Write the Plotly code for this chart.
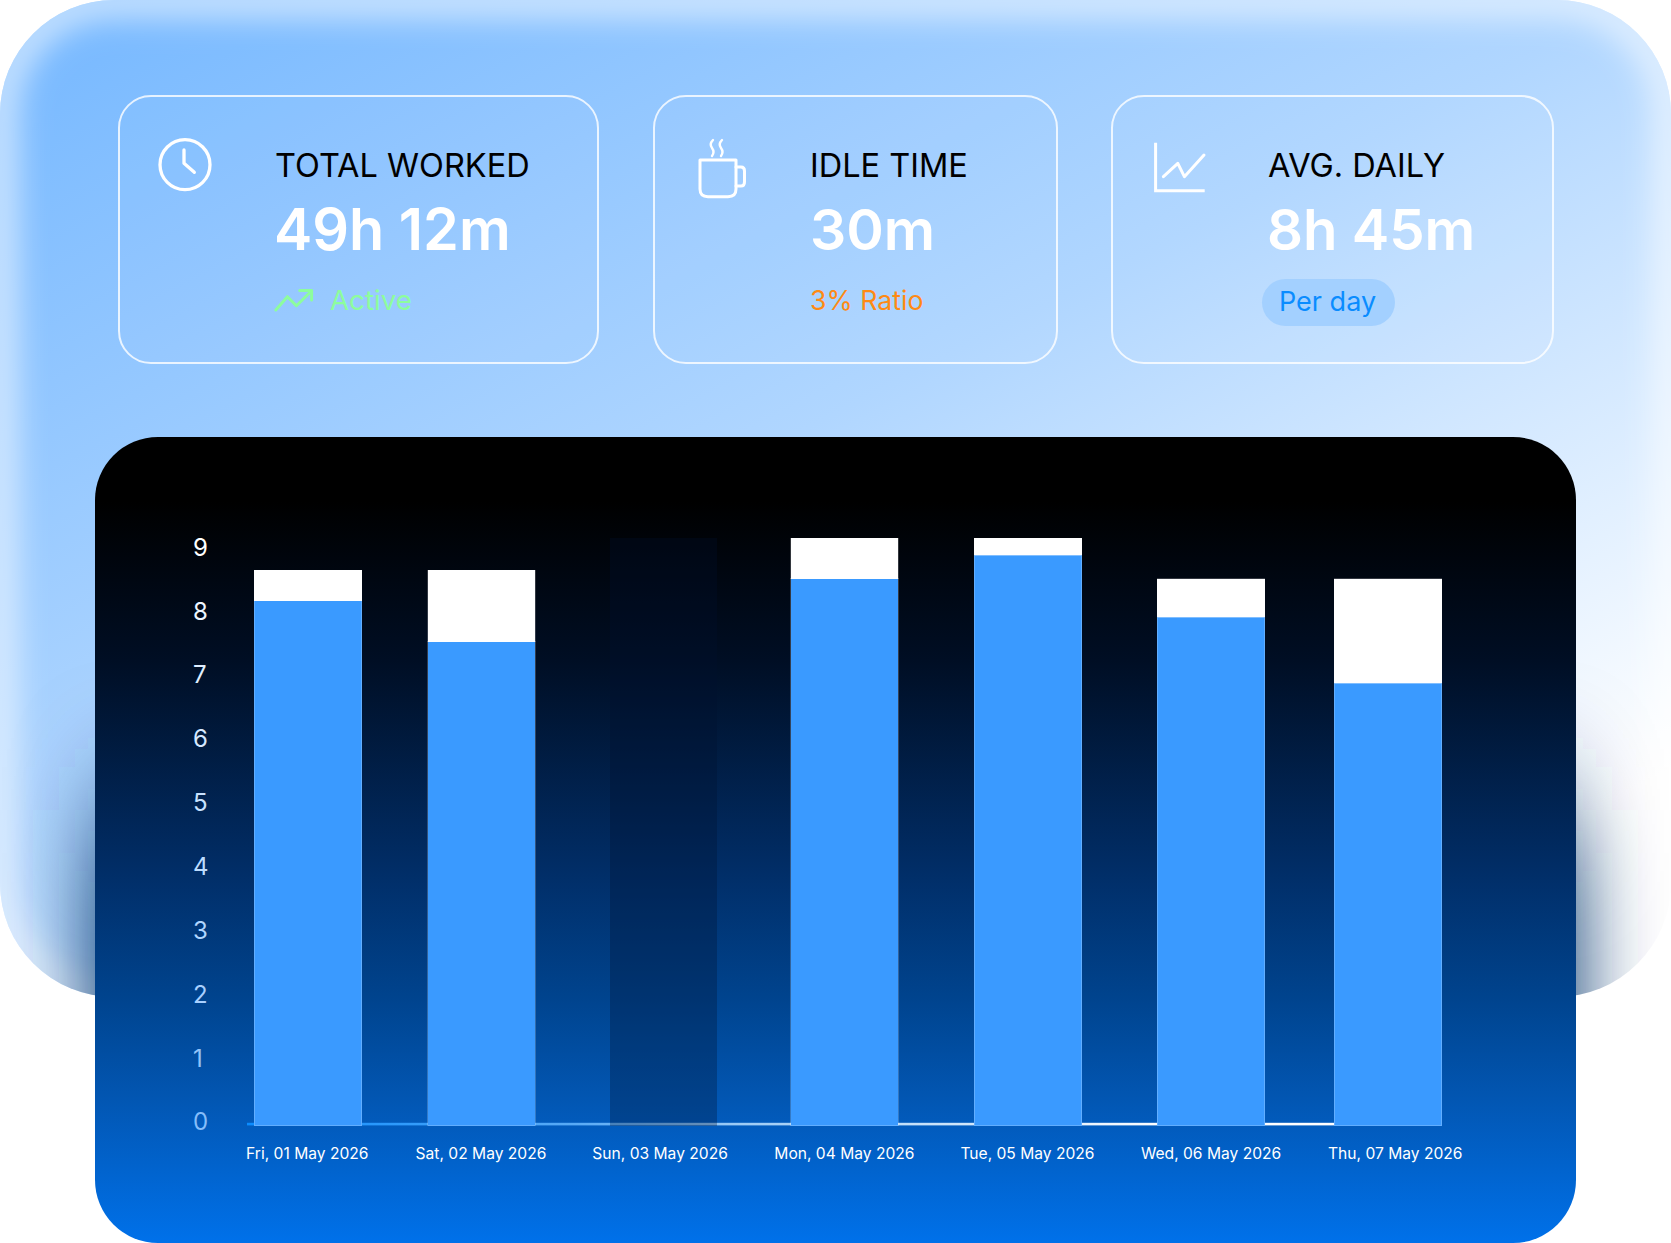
import base64
import plotly.graph_objects as go

# ---- data (hours) ----
days = ["Fri, 01 May 2026", "Sat, 02 May 2026", "Sun, 03 May 2026", "Mon, 04 May 2026",
        "Tue, 05 May 2026", "Wed, 06 May 2026", "Thu, 07 May 2026"]
worked = [8.22, 7.58, None, 8.56, 8.93, 7.96, 6.93]
idle = [0.48, 1.12, None, 0.64, 0.27, 0.60, 1.63]
day_off = [None, None, 9.2, None, None, None, None]
y_ticks = [0, 1, 2, 3, 4, 5, 6, 7, 8, 9]

# hand-placed columns in the source: slightly uneven spacing, in day units
bar_pos = [0.0, 0.963, 1.975, 2.981, 4.0, 5.018, 6.0]
label_pos = [-0.004, 0.961, 1.956, 2.98, 3.997, 5.017, 6.04]
y_colors = ["#85bdfa", "#92c3f8", "#a8d0ff", "#b0d6ff", "#bcdcff",
            "#c8e2ff", "#d5e8ff", "#dfeeff", "#eef6ff", "#ffffff"]

W, H = 1671, 1243
PX_PER_DAY = 180.0
X0_PX = 308.0
Y0_PX = 1125.5
PX_PER_HOUR = 63.85
PLOT_L, PLOT_R, PLOT_T = 190.0, 1500.0, 487.0
PLOT_B = 1157.5
FONT = "Inter, 'Noto Sans', sans-serif"

BG_SVG = f"""<svg xmlns="http://www.w3.org/2000/svg" width="{W}" height="{H}" viewBox="0 0 {W} {H}">
<defs>
<linearGradient id="bg" gradientUnits="userSpaceOnUse" x1="0" y1="58" x2="640" y2="1300">
<stop offset="0" stop-color="#78b9ff"/><stop offset="0.5" stop-color="#b0d6ff"/><stop offset="1" stop-color="#ffffff"/></linearGradient>
<linearGradient id="dark" gradientUnits="userSpaceOnUse" x1="0" y1="437" x2="0" y2="1243">
<stop offset="0.08" stop-color="#000000"/><stop offset="0.277" stop-color="#000e24"/>
<stop offset="0.534" stop-color="#012d66"/><stop offset="0.70" stop-color="#00448f"/>
<stop offset="0.82" stop-color="#0256b2"/><stop offset="1" stop-color="#0071ea"/></linearGradient>
<linearGradient id="base" gradientUnits="userSpaceOnUse" x1="247" y1="0" x2="1335" y2="0">
<stop offset="0" stop-color="#0a8cff"/><stop offset="0.3" stop-color="#58aaf5"/>
<stop offset="0.45" stop-color="#9ccbf5"/><stop offset="0.85" stop-color="#ffffff"/></linearGradient>
<clipPath id="outer"><rect x="0" y="0" width="{W}" height="997" rx="114" ry="114"/></clipPath>
<filter id="glow" x="-10%" y="-10%" width="120%" height="120%"><feGaussianBlur stdDeviation="17"/></filter>
<filter id="shade" x="-20%" y="-40%" width="140%" height="180%"><feGaussianBlur stdDeviation="42 65"/></filter>
</defs>
<g clip-path="url(#outer)">
<rect x="0" y="0" width="{W}" height="997" fill="url(#bg)"/>
<rect x="0" y="0" width="{W}" height="997" rx="114" ry="114" fill="none" stroke="#ffffff" stroke-width="26" stroke-opacity="0.8" filter="url(#glow)"/>
<rect x="95" y="810" width="1481" height="520" fill="#00306a" filter="url(#shade)"/>
</g>
<g fill="#ffffff" fill-opacity="0.03" stroke="#ffffff" stroke-opacity="0.8" stroke-width="2">
<rect x="119" y="96" width="479" height="267" rx="32" ry="32"/>
<rect x="654" y="96" width="403" height="267" rx="32" ry="32"/>
<rect x="1112" y="96" width="441" height="267" rx="32" ry="32"/>
</g>
<rect x="1262" y="279" width="133" height="47" rx="23.5" ry="23.5" fill="#a3d0ff"/>
<g fill="none" stroke="#ffffff" stroke-width="3.3" stroke-linecap="round" stroke-linejoin="round">
<circle cx="185" cy="164.7" r="25"/>
<path d="M184 150 V163.3 L194.3 172.3"/>
<path d="M700 160 H736 V189 Q736 196.7 728 196.7 H708 Q700 196.7 700 189 Z" stroke-width="3"/>
<path d="M736 167 H741 Q744.5 167 744.5 171 V182 Q744.5 186 741 186 H736" stroke-width="3"/>
<path d="M713 140 Q709 144 712 148 Q715 152 712 156" stroke-width="2.4"/>
<path d="M722 140 Q718 144 721 148 Q724 152 721 156" stroke-width="2.4"/>
<path d="M1155.6 142.7 V190.7 H1204.7" stroke-width="3" stroke-linecap="butt" stroke-linejoin="miter"/>
<path d="M1163.4 176.7 L1177.8 163.3 L1184.4 176.7 L1204 155" stroke-width="3"/>
</g>
<g fill="none" stroke="#8dfd9d" stroke-width="3" stroke-linecap="round" stroke-linejoin="round">
<path d="M275.8 310 L287.4 296.7 L296.4 305.7 L311.6 290.7"/>
<path d="M299.7 290.4 H311.6 V300"/>
</g>
<rect x="95" y="437" width="1481" height="806" rx="63" ry="63" fill="url(#dark)"/>
<rect x="247" y="1122.8" width="1088" height="2.6" fill="url(#base)"/>
</svg>"""
bg_uri = "data:image/svg+xml;base64," + base64.b64encode(BG_SVG.encode()).decode()


def fx(px):
    return px / W


def fy(py):
    return 1 - py / H


def px_to_day(px):
    return (px - X0_PX) / PX_PER_DAY


EDGE = "rgba(255,255,255,0.2)"
fig = go.Figure()
fig.add_bar(name="Worked", x=bar_pos, y=worked, width=107.5 / PX_PER_DAY,
            marker=dict(color="#3a9aff", line=dict(color=EDGE, width=1)))
fig.add_bar(name="Idle", x=bar_pos, y=idle, width=107.5 / PX_PER_DAY,
            marker=dict(color="#ffffff", line=dict(color=EDGE, width=1)))
fig.add_bar(name="Day off", x=bar_pos, y=day_off, width=107.5 / PX_PER_DAY,
            marker=dict(color="rgba(0,18,45,0.3)", line=dict(width=0)))

cards = [
    (275, 273.5, "TOTAL WORKED", "49h 12m", 57.5),
    (810, 809.5, "IDLE TIME", "30m", 57),
    (1267.5, 1267, "AVG. DAILY", "8h 45m", 56.3),
]
annotations = []


def note(text, x, y, size, color, weight=400):
    annotations.append(dict(
        text=text, x=fx(x), y=fy(y), xref="paper", yref="paper", showarrow=False,
        xanchor="left", yanchor="middle", borderpad=0, borderwidth=0, align="left",
        font=dict(family=FONT, size=size, color=color, weight=weight)))


for x_title, x_value, title, value, size in cards:
    note(title, x_title, 166, 32.5, "#000000", 400)
    note(value, x_value, 229, size, "#ffffff", 600)
note("Active", 329.5, 300, 27.7, "#8dfd9d")
note("3% Ratio", 810, 300, 26.7, "#ff8a14")
note("Per day", 1279, 301.5, 27, "#0a8cff")

fig.update_layout(
    width=W, height=H, margin=dict(l=0, r=0, t=0, b=0, pad=0, autoexpand=False),
    paper_bgcolor="#ffffff", plot_bgcolor="rgba(0,0,0,0)",
    barmode="stack", showlegend=False, hovermode=False,
    images=[dict(source=bg_uri, xref="paper", yref="paper", x=0, y=1, sizex=1, sizey=1,
                 xanchor="left", yanchor="top", sizing="stretch", layer="below")],
    annotations=annotations,
    xaxis=dict(domain=[fx(PLOT_L), fx(PLOT_R)], range=[px_to_day(PLOT_L), px_to_day(PLOT_R)],
               anchor="free", position=fy(Y0_PX),
               tickmode="array", tickvals=label_pos, ticktext=days, tickangle=0,
               ticks="", ticklen=0, showgrid=False, zeroline=False, showline=False,
               ticklabelstandoff=17, automargin=False,
               tickfont=dict(family=FONT, size=15.6, color="#ffffff")),
    yaxis=dict(domain=[fy(PLOT_B), fy(PLOT_T)],
               range=[(Y0_PX - PLOT_B) / PX_PER_HOUR, (Y0_PX - PLOT_T) / PX_PER_HOUR],
               tickmode="array", tickvals=[v + 0.055 for v in y_ticks],
               ticktext=[f'<span style="color:{c}">{v}</span>' for v, c in zip(y_ticks, y_colors)],
               ticks="", ticklen=0, showgrid=False, zeroline=False, showline=False,
               ticklabelposition="inside", automargin=False,
               tickfont=dict(family=FONT, size=24, color="#ffffff")),
)

fig.write_html("out.html", config=dict(displayModeBar=False),
               post_script="document.body.style.margin='0';document.body.style.overflow='hidden';")
